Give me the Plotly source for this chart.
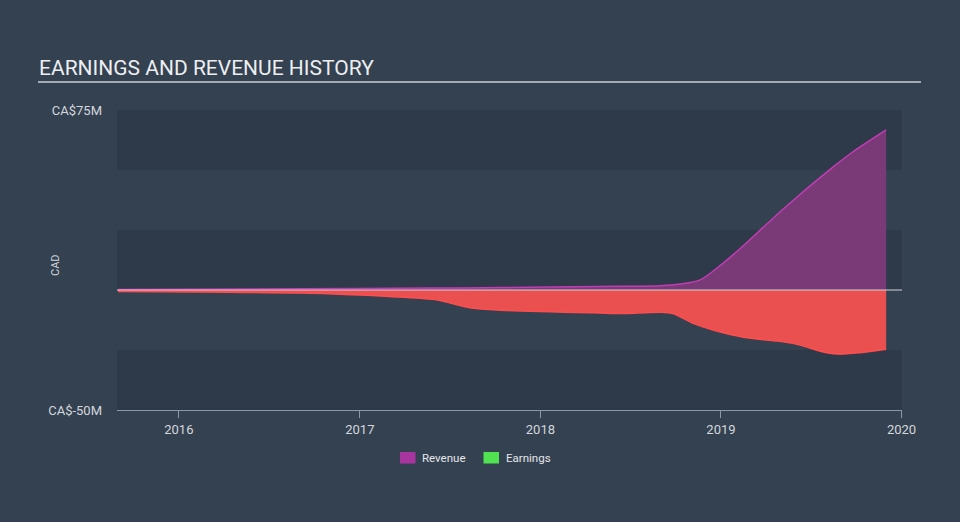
import plotly.graph_objects as go

rev_dates = ["2015-08-31", "2016-09-01", "2017-06-01", "2017-10-15", "2018-05-01",
             "2018-09-01", "2018-10-11", "2018-11-20", "2018-12-31", "2019-02-10",
             "2019-05-11", "2019-08-16", "2019-09-25", "2019-12-01"]
revenue = [0.2, 0.5, 0.8, 1.0, 1.5,
           1.8, 2.5, 4.2, 10.3, 17.5,
           34.5, 51.3, 57.6, 66.7]
earn_dates = ["2015-08-31", "2016-09-01", "2017-03-01", "2017-06-01", "2017-08-15",
              "2017-10-15", "2018-05-01", "2018-06-15", "2018-09-01", "2018-09-27",
              "2018-11-06", "2018-12-16", "2019-02-16", "2019-04-25", "2019-06-10",
              "2019-07-21", "2019-08-24", "2019-10-09", "2019-12-01"]
earnings = [-0.6, -1.3, -2.7, -4.0, -7.5,
            -8.4, -9.6, -9.8, -9.3, -9.9,
            -13.9, -16.7, -19.7, -21.3, -22.9,
            -25.5, -26.7, -26.1, -24.7]
ytick_vals = [-50, 75]
ytick_text = ["CA$-50M", "CA$75M"]
band_edges = [-50, -25, 0, 25, 50, 75]
xtick_vals = ["2016-01-01", "2017-01-01", "2018-01-01", "2019-01-01", "2020-01-01"]
xtick_text = ["2016", "2017", "2018", "2019", "2020"]

BG = "#344151"
DARK = "#2e3a49"
TXT = "#d3d7dc"

fig = go.Figure()
fig.add_trace(go.Scatter(x=earn_dates, y=earnings, mode="lines", fill="tozeroy",
                         line=dict(color="#ff4d4d", width=1.5, shape="spline", smoothing=0.8),
                         fillcolor="#eb5050", name="Earnings", showlegend=False,
                         hoverinfo="skip"))
fig.add_trace(go.Scatter(x=rev_dates, y=revenue, mode="lines", fill="tozeroy",
                         line=dict(color="#c23db4", width=1.5, shape="spline", smoothing=0.8),
                         fillcolor="#7a3977", name="Revenue", showlegend=False,
                         hoverinfo="skip"))

shapes = []
for i in range(len(band_edges) - 1):
    lo, hi = band_edges[i], band_edges[i + 1]
    if i % 2 == 0:
        shapes.append(dict(type="rect", xref="paper", yref="y", x0=0, x1=1,
                           y0=lo, y1=hi, fillcolor=DARK, line_width=0, layer="below"))
shapes.append(dict(type="line", xref="paper", yref="y", x0=0, x1=1, y0=0, y1=0,
                   line=dict(color="#d0d4d8", width=1), layer="above"))

W, H = 785.0, 300.0
def px(xp): return (xp - 117) / W
def py(yp): return (410 - yp) / H

shapes.append(dict(type="line", xref="paper", yref="paper", x0=px(38), x1=px(921),
                   y0=py(82), y1=py(82), line=dict(color="#a3aab2", width=2)))
shapes.append(dict(type="rect", xref="paper", yref="paper", x0=px(400), x1=px(415.5),
                   y0=py(463.5), y1=py(452), fillcolor="#a8359f", line_width=0))
shapes.append(dict(type="rect", xref="paper", yref="paper", x0=px(483.5), x1=px(499),
                   y0=py(463.5), y1=py(452), fillcolor="#4fe14f", line_width=0))

annotations = [
    dict(text="EARNINGS AND REVENUE HISTORY", xref="paper", yref="paper",
         x=px(37), y=py(68), xanchor="left", yanchor="middle", showarrow=False,
         font=dict(family="Roboto", size=21, color="#eceef0")),
    dict(text="CAD", xref="paper", yref="paper", x=px(55), y=py(265),
         xanchor="center", yanchor="middle", textangle=-90, showarrow=False,
         font=dict(family="Roboto", size=11, color=TXT)),
    dict(text="Revenue", xref="paper", yref="paper", x=px(420), y=py(458),
         xanchor="left", yanchor="middle", showarrow=False,
         font=dict(family="Roboto", size=11.5, color="#e4e6ea")),
    dict(text="Earnings", xref="paper", yref="paper", x=px(504), y=py(458),
         xanchor="left", yanchor="middle", showarrow=False,
         font=dict(family="Roboto", size=11.5, color="#e4e6ea")),
]

fig.update_layout(
    width=960, height=522,
    margin=dict(l=117, r=58, t=110, b=112),
    paper_bgcolor=BG, plot_bgcolor=BG,
    shapes=shapes, annotations=annotations,
    showlegend=False,
    font=dict(family="Roboto", color=TXT),
    xaxis=dict(type="date", range=["2015-08-29", "2020-01-02"],
               tickvals=xtick_vals, ticktext=xtick_text,
               showgrid=False, zeroline=False, showline=True,
               linecolor="#8d98a5", linewidth=1, ticks="outside", ticklen=7,
               tickcolor="#8d98a5", tickfont=dict(family="Roboto", size=13, color=TXT)),
    yaxis=dict(range=[-50, 75], tickvals=ytick_vals, ticktext=ytick_text,
               showgrid=False, zeroline=False, showline=False, ticks="",
               ticklabelstandoff=14,
               tickfont=dict(family="Roboto", size=13, color=TXT)),
)

fig.write_html("out.html")
